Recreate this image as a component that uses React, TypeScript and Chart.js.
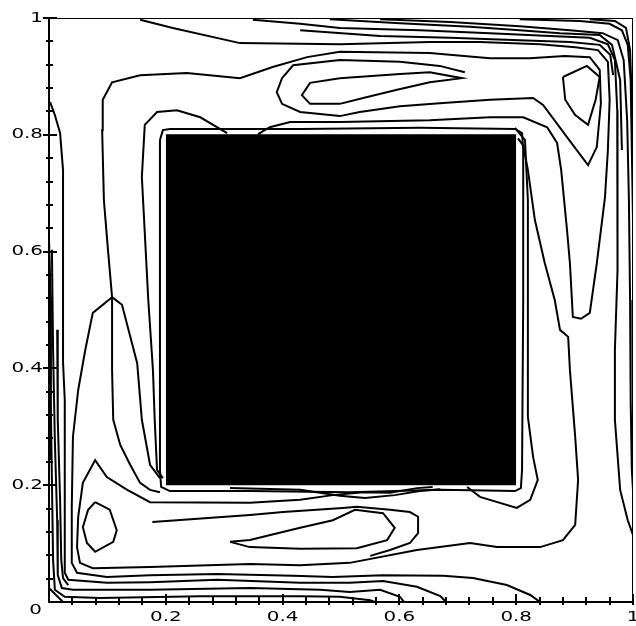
import React, { useEffect, useRef } from "react";
import { Chart, registerables } from "chart.js";

Chart.register(...registerables);

type P = [number, number];

// obstacle (solid square) and walls
const obstacleTop: P[] = [[0.2, 0.8], [0.8, 0.8]];
const obstacleBase = 0.2;
const wallBoundary: P[] = [[0, 1], [1, 1], [1, 0]];

// tick values and labels
const xMajorTicks = [0.2, 0.4, 0.6, 0.8, 1];
const xTickLabels = ["0.2", "0.4", "0.6", "0.8", "1"];
const yMajorTicks = [0.2, 0.4, 0.6, 0.8, 1];
const yTickLabels = ["0.2", "0.4", "0.6", "0.8", "1"];
const minorTicks = [0.04, 0.08, 0.12, 0.16, 0.24, 0.28, 0.32, 0.36, 0.44, 0.48, 0.52, 0.56, 0.64, 0.68, 0.72, 0.76, 0.84, 0.88, 0.92, 0.96];
const originLabel = "0";

// contour lines (x, y)
const topLid1: P[] = [[0.156, 0.997], [0.212, 0.983], [0.327, 0.957], [0.498, 0.955], [0.652, 0.959], [0.738, 0.959], [0.841, 0.955], [0.901, 0.95], [0.94, 0.945], [0.957, 0.925], [0.96, 0.86], [0.957, 0.774], [0.952, 0.693], [0.938, 0.58], [0.926, 0.495], [0.911, 0.485], [0.897, 0.488], [0.892, 0.58], [0.887, 0.637], [0.877, 0.74], [0.87, 0.786], [0.853, 0.813], [0.812, 0.83], [0.755, 0.83], [0.652, 0.825], [0.498, 0.822], [0.413, 0.822], [0.378, 0.813], [0.358, 0.801]];

const outerRing: P[] = [[0.108, 0.522], [0.101, 0.603], [0.094, 0.688], [0.091, 0.808], [0.092, 0.86], [0.108, 0.89], [0.156, 0.902], [0.236, 0.906], [0.327, 0.897], [0.383, 0.916], [0.442, 0.933], [0.498, 0.942], [0.652, 0.94], [0.755, 0.931], [0.823, 0.931], [0.883, 0.935], [0.926, 0.933], [0.943, 0.911], [0.945, 0.854], [0.938, 0.779], [0.923, 0.748], [0.887, 0.796], [0.846, 0.851], [0.829, 0.863], [0.755, 0.86], [0.669, 0.854], [0.601, 0.849], [0.532, 0.839], [0.498, 0.832], [0.43, 0.839], [0.399, 0.853], [0.39, 0.873], [0.399, 0.897], [0.418, 0.919], [0.498, 0.928], [0.601, 0.925], [0.669, 0.918], [0.712, 0.907]];

const topTongue: P[] = [[0.498, 0.897], [0.601, 0.904], [0.652, 0.907], [0.707, 0.897], [0.652, 0.89], [0.596, 0.877], [0.538, 0.863], [0.498, 0.853], [0.447, 0.853], [0.433, 0.868], [0.447, 0.889], [0.498, 0.897]];

const topRightEddy: P[] = [[0.88, 0.899], [0.921, 0.918], [0.943, 0.899], [0.936, 0.86], [0.923, 0.817], [0.901, 0.834], [0.884, 0.86], [0.88, 0.899]];

const wallTop1: P[] = [[0.349, 0.997], [0.43, 0.99], [0.498, 0.983], [0.635, 0.979], [0.755, 0.974], [0.858, 0.969], [0.926, 0.966], [0.957, 0.955], [0.969, 0.928], [0.973, 0.842], [0.974, 0.74], [0.973, 0.568], [0.969, 0.431], [0.969, 0.312], [0.978, 0.192], [0.991, 0.14], [1, 0.115]];
const wallTop2: P[] = [[0.567, 0.998], [0.687, 0.993], [0.806, 0.986], [0.892, 0.979], [0.948, 0.974], [0.974, 0.962], [0.984, 0.928], [0.99, 0.825], [0.993, 0.688], [0.995, 0.517], [0.996, 0.346], [0.998, 0.226], [1, 0.192]];
const wallTop3: P[] = [[0.806, 0.998], [0.909, 0.995], [0.96, 0.99], [0.981, 0.979], [0.991, 0.954], [0.996, 0.894], [0.998, 0.774], [1, 0.654]];
const wallTop4: P[] = [[0.926, 0.998], [0.969, 0.995], [0.988, 0.983], [0.995, 0.945], [0.998, 0.86], [1, 0.791]];
const wallTop5: P[] = [[0.481, 0.998], [0.601, 0.991], [0.721, 0.985], [0.806, 0.979], [0.875, 0.974], [0.943, 0.971], [0.964, 0.954], [0.978, 0.894], [0.981, 0.774]];
const wallTop6: P[] = [[0.43, 0.979], [0.567, 0.969], [0.687, 0.966], [0.806, 0.962], [0.892, 0.959], [0.943, 0.954], [0.961, 0.937], [0.966, 0.902]];

const blockRing: P[] = [[0.19, 0.791], [0.195, 0.808], [0.207, 0.81], [0.43, 0.81], [0.635, 0.812], [0.798, 0.81], [0.81, 0.803], [0.812, 0.774], [0.812, 0.517], [0.81, 0.226], [0.808, 0.195], [0.798, 0.19], [0.67, 0.192], [0.515, 0.188], [0.344, 0.19], [0.207, 0.19], [0.192, 0.197], [0.19, 0.226], [0.19, 0.791]];

const leftRing2: P[] = [[0.305, 0.803], [0.259, 0.83], [0.219, 0.842], [0.185, 0.839], [0.164, 0.817], [0.159, 0.728], [0.17, 0.517], [0.178, 0.397], [0.181, 0.312], [0.185, 0.226], [0.195, 0.212]];
const rightRing2: P[] = [[0.798, 0.812], [0.815, 0.791], [0.82, 0.688], [0.82, 0.522], [0.82, 0.317], [0.829, 0.248], [0.837, 0.209], [0.824, 0.175], [0.801, 0.161], [0.738, 0.18], [0.716, 0.197]];
const leftRingC: P[] = [[0.108, 0.522], [0.108, 0.397], [0.11, 0.312], [0.122, 0.269], [0.139, 0.235], [0.156, 0.204], [0.173, 0.192], [0.19, 0.188]];
const leftRingD: P[] = [[0.108, 0.522], [0.125, 0.509], [0.151, 0.409], [0.159, 0.312], [0.173, 0.235], [0.19, 0.212]];
const saddleLeft: P[] = [[0.108, 0.522], [0.075, 0.495], [0.062, 0.431], [0.05, 0.363], [0.041, 0.283], [0.039, 0.163], [0.039, 0.067], [0.048, 0.05], [0.099, 0.043], [0.173, 0.046], [0.288, 0.048], [0.418, 0.045], [0.486, 0.043], [0.572, 0.046], [0.675, 0.045], [0.726, 0.041], [0.784, 0.029], [0.824, 0.012], [0.841, 0]];

const bigRingLower: P[] = [[0.803, 0.794], [0.812, 0.782], [0.82, 0.74], [0.832, 0.654], [0.849, 0.58], [0.866, 0.517], [0.875, 0.466], [0.889, 0.454], [0.892, 0.397], [0.901, 0.283], [0.906, 0.209], [0.901, 0.132], [0.88, 0.106], [0.841, 0.094], [0.767, 0.094], [0.721, 0.101], [0.63, 0.089], [0.515, 0.067], [0.43, 0.063], [0.344, 0.065], [0.173, 0.06], [0.075, 0.058], [0.053, 0.067], [0.048, 0.094], [0.05, 0.146], [0.058, 0.204], [0.079, 0.243], [0.099, 0.214], [0.134, 0.192], [0.173, 0.171], [0.344, 0.17], [0.43, 0.175], [0.486, 0.183], [0.538, 0.188], [0.584, 0.187], [0.63, 0.195], [0.657, 0.197]];

const bottomLeftEddy: P[] = [[0.079, 0.171], [0.104, 0.158], [0.116, 0.123], [0.11, 0.103], [0.079, 0.086], [0.065, 0.101], [0.058, 0.128], [0.067, 0.158], [0.079, 0.171]];

const bottomTongueOuter: P[] = [[0.177, 0.137], [0.219, 0.14], [0.344, 0.149], [0.401, 0.154], [0.503, 0.161], [0.527, 0.163], [0.584, 0.158], [0.618, 0.154], [0.632, 0.146], [0.632, 0.118], [0.618, 0.101], [0.584, 0.089], [0.55, 0.079]];
const bottomTongueInner: P[] = [[0.31, 0.103], [0.344, 0.106], [0.43, 0.127], [0.486, 0.14], [0.524, 0.158], [0.572, 0.152], [0.592, 0.127], [0.579, 0.106], [0.527, 0.092], [0.43, 0.091], [0.344, 0.094], [0.31, 0.103]];

const leftWall0: P[] = [[0.002, 0.856], [0.01, 0.834], [0.019, 0.803], [0.024, 0.74], [0.024, 0.411], [0.027, 0.346], [0.027, 0.277], [0.027, 0.05], [0.033, 0.038], [0.099, 0.033], [0.173, 0.034], [0.288, 0.038], [0.43, 0.033], [0.515, 0.033], [0.572, 0.036], [0.63, 0.026], [0.67, 0.01], [0.68, 0]];
const leftWall1: P[] = [[0, 0.62], [0.003, 0.517], [0.003, 0.346], [0.002, 0.243]];
const leftWall2: P[] = [[0.005, 0.603], [0.007, 0.432], [0.01, 0.277], [0.014, 0.14], [0.015, 0.046], [0.022, 0.024], [0.041, 0.021], [0.173, 0.021], [0.344, 0.024], [0.464, 0.021], [0.515, 0.017], [0.567, 0.021], [0.601, 0.009], [0.608, 0]];
const leftWall3: P[] = [[0.002, 0.517], [0.003, 0.346], [0.005, 0.209], [0.007, 0.072], [0.01, 0.021], [0.027, 0.009], [0.087, 0.007], [0.259, 0.01], [0.43, 0.01], [0.498, 0.009], [0.55, 0.003], [0.558, 0]];
const leftWall4: P[] = [[0.014, 0.466], [0.015, 0.312], [0.019, 0.175], [0.021, 0.072], [0.024, 0.041], [0.033, 0.029]];
const cornerBL: P[] = [[0, 0.024], [0.012, 0.012], [0.024, 0]];
const blockBottom2: P[] = [[0.31, 0.195], [0.43, 0.192], [0.498, 0.182], [0.541, 0.178], [0.592, 0.183], [0.635, 0.19], [0.67, 0.193]];

const contours: P[][] = [
  topLid1, outerRing, topTongue, topRightEddy,
  wallTop1, wallTop2, wallTop3, wallTop4, wallTop5, wallTop6,
  blockRing, leftRing2, rightRing2, leftRingC, leftRingD, saddleLeft,
  bigRingLower, bottomLeftEddy, bottomTongueOuter, bottomTongueInner,
  leftWall0, leftWall1, leftWall2, leftWall3, leftWall4, cornerBL, blockBottom2,
];

const LABEL_FONT = '14px "DejaVu Sans", sans-serif';
const LABEL_STRETCH = 1.42;

export default function App() {
  const ref = useRef<HTMLCanvasElement>(null);

  useEffect(() => {
    const toPts = (a: P[]) => a.map(([x, y]) => ({ x, y }));
    const lineDs = (a: P[]) => ({
      data: toPts(a),
      borderColor: "#000",
      borderWidth: 2,
      pointRadius: 0,
      fill: false,
      tension: 0,
    });

    const axesPlugin = {
      id: "axesTicks",
      afterDraw(chart: any) {
        const ctx = chart.ctx as CanvasRenderingContext2D;
        const xs = chart.scales.x;
        const ys = chart.scales.y;
        const area = chart.chartArea;
        ctx.save();
        ctx.strokeStyle = "#000";
        ctx.lineWidth = 2;
        ctx.beginPath();
        for (const v of minorTicks) {
          const px = Math.round(xs.getPixelForValue(v));
          ctx.moveTo(px, area.bottom - 5);
          ctx.lineTo(px, area.bottom + 3);
          const py = Math.round(ys.getPixelForValue(v));
          ctx.moveTo(area.left - 3, py);
          ctx.lineTo(area.left + 4, py);
        }
        for (const v of xMajorTicks) {
          const px = Math.round(xs.getPixelForValue(v));
          ctx.moveTo(px, area.bottom - 8);
          ctx.lineTo(px, area.bottom + 3);
        }
        for (const v of yMajorTicks) {
          const py = Math.round(ys.getPixelForValue(v));
          ctx.moveTo(area.left - 6, py);
          ctx.lineTo(area.left + 8, py);
        }
        ctx.stroke();

        ctx.fillStyle = "#000";
        ctx.font = LABEL_FONT;
        ctx.textBaseline = "middle";
        const drawText = (t: string, x: number, y: number, align: "center" | "right") => {
          const w = ctx.measureText(t).width * LABEL_STRETCH;
          const left = align === "center" ? x - w / 2 : x - w;
          ctx.save();
          ctx.translate(left, y);
          ctx.scale(LABEL_STRETCH, 1);
          ctx.textAlign = "left";
          ctx.fillText(t, 0, 0);
          ctx.restore();
        };
        xMajorTicks.forEach((v, i) => {
          drawText(xTickLabels[i], xs.getPixelForValue(v), area.bottom + 15, "center");
        });
        yMajorTicks.forEach((v, i) => {
          drawText(yTickLabels[i], area.left - 6, ys.getPixelForValue(v), "right");
        });
        drawText(originLabel, area.left - 7, area.bottom + 8, "right");
        ctx.restore();
      },
    };

    const chart = new Chart(ref.current as HTMLCanvasElement, {
      type: "line",
      data: {
        datasets: [
          {
            data: toPts(obstacleTop),
            borderColor: "#000",
            backgroundColor: "#000",
            borderWidth: 1,
            pointRadius: 0,
            fill: { value: obstacleBase },
            tension: 0,
          } as any,
          lineDs(wallBoundary),
          ...contours.map(lineDs),
        ],
      },
      options: {
        animation: false,
        responsive: false,
        events: [],
        layout: { padding: { top: 18, right: 3, left: 0, bottom: 0 } },
        plugins: { legend: { display: false }, tooltip: { enabled: false } },
        scales: {
          x: {
            type: "linear",
            min: 0,
            max: 1,
            ticks: { display: false },
            grid: { display: false },
            border: { display: true, color: "#000", width: 2 },
            afterFit: (s: any) => {
              s.height = 24;
            },
          },
          y: {
            type: "linear",
            min: 0,
            max: 1,
            ticks: { display: false },
            grid: { display: false },
            border: { display: true, color: "#000", width: 2 },
            afterFit: (s: any) => {
              s.width = 49;
            },
          },
        },
      } as any,
      plugins: [axesPlugin],
    });
    return () => chart.destroy();
  }, []);

  return (
    <div style={{ position: "absolute", left: 0, top: 0, width: 636, height: 626, background: "#fff" }}>
      <canvas ref={ref} width={636} height={626} style={{ display: "block" }} />
    </div>
  );
}
